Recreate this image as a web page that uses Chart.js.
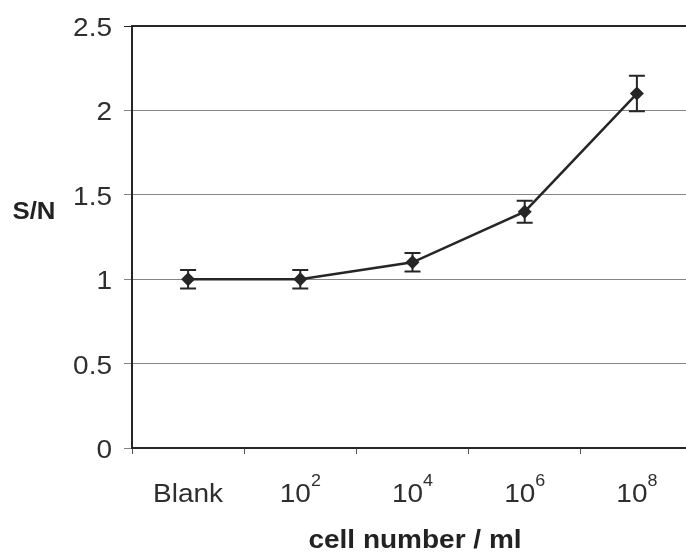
<!DOCTYPE html>
<html>
<head>
<meta charset="utf-8">
<script src="https://cdn.jsdelivr.net/npm/chart.js@4.4.0/dist/chart.umd.min.js"></script>
<style>
  html, body { margin: 0; padding: 0; background: #fff; overflow: hidden; }
  #wrap { width: 700px; height: 554px; }
</style>
</head>
<body>
<div id="wrap"><canvas id="myChart"></canvas></div>
<script>
// DATA
const categories = ['Blank', '10', '10', '10', '10'];
const exponents = ['', '2', '4', '6', '8'];
const snValues = [1.0, 1.0, 1.1, 1.4, 2.1];
const snErrors = [0.055, 0.055, 0.055, 0.065, 0.105];
const yTicks = [0, 0.5, 1, 1.5, 2, 2.5];

const FONT = '"Liberation Sans", Arial, sans-serif';
const INK = '#262626';
const SX = 1.12; // the scanned text is a bit wide

// draw text stretched horizontally, anchored at x
function wideText(ctx, txt, x, y, align) {
  const w = ctx.measureText(txt).width * SX;
  let left = x;
  if (align === 'center') left = x - w / 2;
  if (align === 'right') left = x - w;
  ctx.save();
  ctx.translate(left, y);
  ctx.scale(SX, 1);
  ctx.textAlign = 'left';
  ctx.fillText(txt, 0, 0);
  ctx.restore();
  return w;
}

// error bars, axis labels with superscripts, titles
const extras = {
  id: 'extras',
  afterDatasetsDraw(chart) {
    const ctx = chart.ctx;
    const x = chart.scales.x;
    const y = chart.scales.y;
    ctx.save();
    ctx.strokeStyle = INK;
    ctx.lineWidth = 2;
    snValues.forEach((v, i) => {
      const px = x.getPixelForValue(i);
      const top = y.getPixelForValue(v + snErrors[i]);
      const bot = y.getPixelForValue(v - snErrors[i]);
      ctx.beginPath();
      ctx.moveTo(px, top); ctx.lineTo(px, bot);
      ctx.moveTo(px - 8, top); ctx.lineTo(px + 8, top);
      ctx.moveTo(px - 8, bot); ctx.lineTo(px + 8, bot);
      ctx.stroke();
    });
    ctx.restore();
  },
  afterDraw(chart) {
    const ctx = chart.ctx;
    const x = chart.scales.x;
    const y = chart.scales.y;
    const area = chart.chartArea;
    ctx.save();
    ctx.fillStyle = '#2e2e2e';
    ctx.textBaseline = 'alphabetic';

    // y tick labels
    ctx.font = '25px ' + FONT;
    yTicks.forEach(v => {
      wideText(ctx, String(v), 112, y.getPixelForValue(v) + 10, 'right');
    });

    // x tick labels
    categories.forEach((c, i) => {
      const px = x.getPixelForValue(i);
      ctx.font = '25px ' + FONT;
      const w1 = ctx.measureText(c).width * SX;
      let w2 = 0;
      if (exponents[i]) {
        ctx.font = '16px ' + FONT;
        w2 = ctx.measureText(exponents[i]).width * SX;
      }
      const start = px - (w1 + w2) / 2;
      ctx.font = '25px ' + FONT;
      wideText(ctx, c, start, 502, 'left');
      if (exponents[i]) {
        ctx.font = '16px ' + FONT;
        wideText(ctx, exponents[i], start + w1, 486, 'left');
      }
    });

    ctx.fillStyle = '#222';
    ctx.font = 'bold 25px ' + FONT;
    wideText(ctx, 'cell number / ml', 415, 548, 'center');
    ctx.font = 'bold 23px ' + FONT;
    wideText(ctx, 'S/N', 34, 219, 'center');

    // top border of plot area
    ctx.strokeStyle = INK;
    ctx.lineWidth = 2;
    ctx.beginPath();
    ctx.moveTo(area.left, area.top);
    ctx.lineTo(area.right, area.top);
    ctx.stroke();
    ctx.restore();
  }
};

let myChart = document.getElementById('myChart').getContext('2d');
window.chart = new Chart(myChart, {
  type: 'line',
  data: {
    labels: categories.map((c, i) => c + exponents[i]),
    datasets: [{
      label: 'S/N',
      data: snValues,
      borderColor: INK,
      borderWidth: 2.5,
      backgroundColor: INK,
      pointStyle: 'rectRot',
      pointRadius: 7,
      pointBorderWidth: 0,
      tension: 0
    }]
  },
  options: {
    responsive: true,
    maintainAspectRatio: false,
    animation: false,
    layout: { padding: { left: 0, top: 26, right: 5, bottom: 0 } },
    plugins: { legend: { display: false }, tooltip: { enabled: false } },
    scales: {
      x: {
        offset: true,
        grid: { offset: true, drawOnChartArea: false, drawTicks: true, tickLength: 6, color: '#555' },
        border: { display: true, color: INK, width: 2 },
        ticks: { display: false },
        afterFit: (scale) => { scale.height = 106; }
      },
      y: {
        min: 0,
        max: 2.5,
        afterBuildTicks: (scale) => { scale.ticks = yTicks.map(v => ({ value: v })); },
        grid: {
          color: (c) => c.tick && c.tick.value === 2.5 ? INK : '#858585',
          lineWidth: 1,
          tickLength: 8
        },
        border: { display: true, color: INK, width: 2 },
        ticks: { display: false },
        afterFit: (scale) => { scale.width = 132; }
      }
    }
  },
  plugins: [extras]
});
</script>
</body>
</html>
